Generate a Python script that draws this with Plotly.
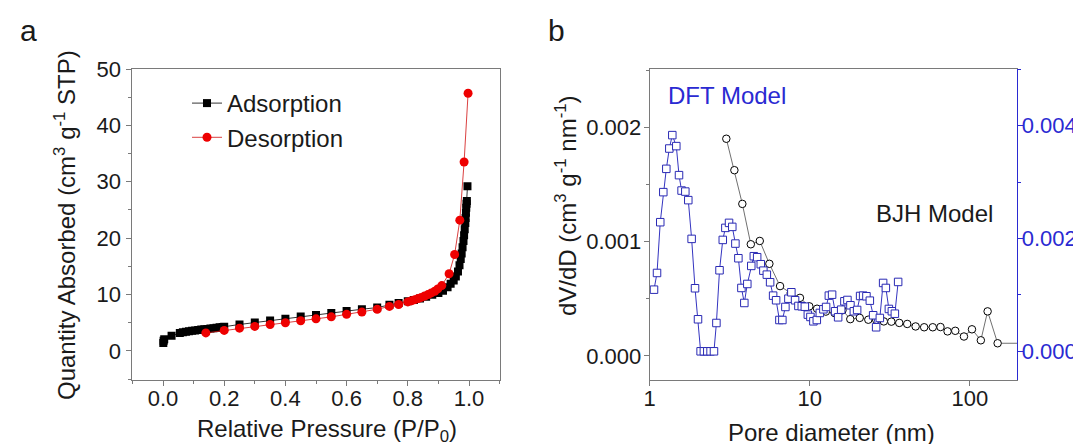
import plotly.graph_objects as go

# ---------------- Panel a: N2 isotherm ----------------
p_ads = [0.001, 0.002, 0.004, 0.028, 0.055, 0.065, 0.075, 0.085, 0.095, 0.105, 0.115,
         0.125, 0.135, 0.145, 0.155, 0.165, 0.175, 0.185, 0.195, 0.20, 0.25, 0.30, 0.35,
         0.40, 0.45, 0.50, 0.55, 0.60, 0.65, 0.70, 0.74, 0.77, 0.80, 0.82, 0.84, 0.86,
         0.88, 0.90, 0.915, 0.93, 0.94, 0.95, 0.957, 0.964, 0.969, 0.973, 0.976, 0.979,
         0.982, 0.984, 0.986, 0.988, 0.989, 0.990, 0.991, 0.992, 0.993, 0.995]
v_ads = [1.4, 1.8, 2.1, 2.7, 3.2, 3.3, 3.4, 3.5, 3.6, 3.65, 3.7,
         3.8, 3.85, 3.9, 4.0, 4.05, 4.1, 4.2, 4.25, 4.3, 4.7, 5.05, 5.4,
         5.7, 6.1, 6.4, 6.75, 7.1, 7.4, 7.7, 8.2, 8.5, 8.8, 9.05, 9.3, 9.6,
         9.95, 10.3, 10.7, 11.3, 11.9, 12.5, 13.2, 14.1, 15.2, 16.3, 17.3, 18.4,
         19.5, 20.5, 21.6, 22.7, 23.6, 24.5, 25.4, 26.1, 26.6, 29.2]

p_des = [0.997, 0.984, 0.970, 0.953, 0.935, 0.911, 0.898, 0.888, 0.877, 0.866, 0.855,
         0.844, 0.834, 0.823, 0.812, 0.80, 0.77, 0.74, 0.70, 0.65, 0.60, 0.55, 0.50,
         0.45, 0.40, 0.35, 0.30, 0.25, 0.20, 0.14]
v_des = [45.7, 33.5, 23.2, 17.1, 13.7, 11.6, 11.0, 10.6, 10.3, 10.0, 9.75,
         9.5, 9.3, 9.1, 8.9, 8.7, 8.25, 7.9, 7.4, 6.9, 6.5, 6.05, 5.7,
         5.35, 5.0, 4.7, 4.35, 4.05, 3.65, 3.2]

# ---------------- Panel b: pore size distribution ----------------
d_bjh = [3.01, 3.38, 3.79, 4.28, 4.87, 5.59, 6.52, 7.6, 8.68, 9.93, 11.1, 12.6, 14.3,
         16.0, 17.9, 20.5, 23.2, 26.0, 29.0, 32.3, 36.2, 40.6, 45.8, 51.8, 58.6, 65.5,
         72.5, 81.0, 91.8, 103, 117, 129, 149, 230]
v_bjh = [0.00190, 0.001625, 0.00133, 0.000977, 0.001006, 0.000806, 0.000611, 0.00055,
         0.000508, 0.000434, 0.000413, 0.000388, 0.000375, 0.000400, 0.000322, 0.000333,
         0.000317, 0.000315, 0.000302, 0.000300, 0.000289, 0.000280, 0.000258, 0.000251,
         0.000251, 0.000253, 0.000215, 0.000220, 0.000170, 0.000233, 0.000137, 0.000390,
         0.000111, 0.000111]

d_dft = [1.064, 1.111, 1.164, 1.216, 1.270, 1.326, 1.384, 1.466, 1.524, 1.582, 1.669,
         1.742, 1.828, 1.919, 2.003, 2.08, 2.18, 2.29, 2.40, 2.52, 2.61, 2.73, 2.86,
         2.97, 3.13, 3.28, 3.43, 3.58, 3.74, 3.90, 4.07, 4.31, 4.47, 4.69, 4.94, 5.13,
         5.39, 5.65, 5.90, 6.16, 6.46, 6.74, 7.04, 7.35, 7.67, 8.09, 8.49, 8.91, 9.31,
         9.72, 10.09, 10.53, 11.06, 11.55, 12.16, 12.64, 13.15, 13.78, 14.39, 15.03,
         15.70, 16.45, 17.18, 17.94, 18.84, 19.75, 20.62, 21.53, 22.58, 23.71, 24.87,
         25.96, 27.38, 28.71, 29.85, 31.18, 32.55, 33.98, 35.63]
v_dft = [0.001093, 0.001389, 0.002289, 0.002822, 0.003235, 0.003595, 0.003833, 0.003638,
         0.003123, 0.002850, 0.002832, 0.002680, 0.001993, 0.001118, 0.000568, 0.0, 0.0,
         0.0, 0.0, 0.0, 0.000502, 0.001437, 0.001975, 0.002188, 0.002277, 0.002206,
         0.001910, 0.001650, 0.001123, 0.000857, 0.001194, 0.001514, 0.001686, 0.001668,
         0.001544, 0.001430, 0.001359, 0.001224, 0.000987, 0.000905, 0.000555, 0.000555,
         0.000786, 0.000933, 0.001047, 0.000905, 0.000804, 0.000799, 0.000791, 0.000650,
         0.000609, 0.000532, 0.000555, 0.000680, 0.000745, 0.000786, 0.000987, 0.001004,
         0.000710, 0.000603, 0.000738, 0.000887, 0.000910, 0.000816, 0.000710, 0.000733,
         0.000981, 0.000987, 0.000976, 0.000898, 0.000639, 0.000426, 0.000591, 0.001212,
         0.001123, 0.000751, 0.000710, 0.000667, 0.001230]

x_ticks_b = [1, 10, 100]
x_ticktext_b = ["1", "10", "100"]

FONT = "Liberation Sans, Arial, sans-serif"
BLUE = "#2a2ad2"
AXC = "#7a7a7a"
TXT = "#1a1a1a"
W, H = 1081, 444
TICK_SIZE = 22
TEXT_SIZE = 24

def px_x(v):
    return v / W

def px_y(v):
    return 1 - v / H

fig = go.Figure()

fig.add_trace(go.Scatter(x=p_ads, y=v_ads, mode="lines+markers", name="Adsorption",
                         line=dict(color="black", width=0.8),
                         marker=dict(symbol="square", size=8, color="black"),
                         xaxis="x", yaxis="y"))
fig.add_trace(go.Scatter(x=p_des, y=v_des, mode="lines+markers", name="Desorption",
                         line=dict(color="#d01010", width=0.8),
                         marker=dict(symbol="circle", size=9, color="#ee0000"),
                         xaxis="x", yaxis="y"))

fig.add_trace(go.Scatter(x=d_bjh, y=v_bjh, mode="lines+markers", name="BJH",
                         showlegend=False,
                         line=dict(color="#707070", width=1),
                         marker=dict(symbol="circle", size=7.5, color="white",
                                     line=dict(color="black", width=1)),
                         xaxis="x2", yaxis="y3"))
fig.add_trace(go.Scatter(x=d_dft, y=v_dft, mode="lines+markers", name="DFT",
                         showlegend=False,
                         line=dict(color="#3434c0", width=1),
                         marker=dict(symbol="square", size=7.5, color="white",
                                     line=dict(color="#2a2ab4", width=1)),
                         xaxis="x2", yaxis="y4"))

tickfont = dict(family=FONT, size=TICK_SIZE, color=TXT)
common = dict(showline=True, linecolor=AXC, linewidth=1, ticks="outside", ticklen=5,
              tickcolor=AXC, showgrid=False, zeroline=False, tickfont=tickfont,
              automargin=False)

fig.update_layout(
    width=W, height=H,
    margin=dict(l=0, r=0, t=0, b=0),
    paper_bgcolor="white", plot_bgcolor="white",
    font=dict(family=FONT, size=TEXT_SIZE, color=TXT),
    showlegend=True,
    xaxis=dict(domain=[px_x(124.4), px_x(491.6)], range=[-0.1, 1.1], dtick=0.2, tick0=0,
               tickformat=".1f", mirror=True, anchor="y", ticklabelstandoff=-7,
               minor=dict(dtick=0.1, tick0=0, ticklen=3, ticks="outside", tickcolor=AXC),
               **common),
    yaxis=dict(domain=[px_y(372.3), px_y(61)], range=[-5.2, 50], dtick=10, tick0=0,
               mirror=True, anchor="x", ticklabelstandoff=1,
               minor=dict(dtick=5, tick0=0, ticklen=3, ticks="outside", tickcolor=AXC),
               **common),
    xaxis2=dict(domain=[px_x(641.7), px_x(1009.3)], type="log", range=[0, 2.296],
                tickvals=x_ticks_b, ticktext=x_ticktext_b, mirror=True, anchor="y3",
                ticklabelstandoff=-7, **common),
    yaxis3=dict(domain=[px_y(372.3), px_y(61)], range=[-0.000213, 0.00251],
                dtick=0.001, tick0=0, tickformat=".3f", anchor="x2", ticklabelstandoff=-2,
                minor=dict(dtick=0.0005, tick0=0, ticklen=3, ticks="outside", tickcolor=AXC),
                **common),
    yaxis4=dict(range=[-0.000514, 0.005005], dtick=0.002, tick0=0, tickformat=".3f",
                overlaying="y3", side="right", anchor="x2", ticklabelstandoff=-6,
                showline=True, linecolor=BLUE, linewidth=1, ticks="outside", ticklen=5,
                tickcolor=BLUE, showgrid=False, zeroline=False, automargin=False,
                tickfont=dict(family=FONT, size=TICK_SIZE, color=BLUE),
                minor=dict(dtick=0.001, tick0=0, ticklen=3, ticks="outside", tickcolor=BLUE)),
    legend=dict(x=px_x(179), y=px_y(73), xanchor="left", yanchor="top",
                bgcolor="rgba(0,0,0,0)", font=dict(family=FONT, size=TEXT_SIZE, color=TXT),
                tracegroupgap=0, itemwidth=30),
)

ann = [
    dict(text="a", x=px_x(20), y=px_y(22), font=dict(size=30)),
    dict(text="b", x=px_x(548), y=px_y(22), font=dict(size=30)),
    dict(text="Quantity Absorbed (cm<sup>3</sup> g<sup>-1</sup> STP)", x=px_x(57),
         y=px_y(217), textangle=-90),
    dict(text="Relative Pressure (P/P<sub>0</sub>)", x=px_x(319), y=px_y(422)),
    dict(text="dV/dD (cm<sup>3</sup> g<sup>-1</sup> nm<sup>-1</sup>)", x=px_x(558),
         y=px_y(198), textangle=-90),
    dict(text="Pore diameter (nm)", x=px_x(823), y=px_y(424)),
    dict(text="DFT Model", x=px_x(719), y=px_y(88), font=dict(color=BLUE)),
    dict(text="BJH Model", x=px_x(926), y=px_y(205)),
]
for a in ann:
    f = dict(family=FONT, size=TEXT_SIZE, color=TXT)
    f.update(a.pop("font", {}))
    fig.add_annotation(xref="paper", yref="paper", showarrow=False, xanchor="center",
                       yanchor="middle", font=f, **a)

fig.write_html("out.html")
